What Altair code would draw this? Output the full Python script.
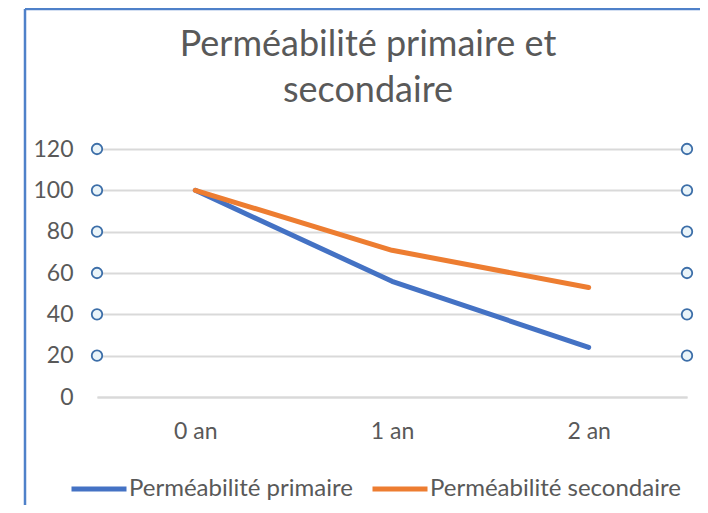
import altair as alt
import pandas as pd

# ---- data ----
categories = ["0 an", "1 an", "2 an"]
primaire = [100, 56, 24]
secondaire = [100, 71, 53]
series_names = ["Perméabilité primaire", "Perméabilité secondaire"]
series_colors = ["#4472C4", "#ED7D31"]
y_ticks = [0, 20, 40, 60, 80, 100, 120]
handle_levels = [20, 40, 60, 80, 100, 120]
title_lines = ["Perméabilité primaire et", "secondaire"]

rows = []
for name, vals in zip(series_names, [primaire, secondaire]):
    for c, v in zip(categories, vals):
        rows.append({"annee": c, "valeur": v, "serie": name})
df = pd.DataFrame(rows)
handles = pd.DataFrame({"niveau": handle_levels})

W, H = 590, 248
PAD_L, PAD_T = 89, 141
TOTAL_W, TOTAL_H = 692, 497
FONT = "Lato"
GREY = "#595959"
GRID = "#d9d9d9"
FRAME = "#4F81C9"

x_enc = alt.X(
    "annee:N",
    sort=categories,
    scale=alt.Scale(domain=categories, type="point", padding=0.5),
    axis=alt.Axis(
        title=None, labelAngle=0, ticks=False, tickSize=0, grid=False,
        domain=True, domainColor=GRID, domainWidth=2,
        labelPadding=34, labelBaseline="middle",
        labelFont=FONT, labelFontSize=23, labelColor=GREY,
    ),
)
y_enc = alt.Y(
    "valeur:Q",
    scale=alt.Scale(domain=[0, 120], nice=False),
    axis=alt.Axis(
        title=None, values=y_ticks, ticks=False, tickSize=0, domain=False,
        grid=True, gridColor=GRID, gridWidth=2,
        labelPadding=24, labelFont=FONT, labelFontSize=23, labelColor=GREY,
    ),
)

lines = alt.Chart(df).mark_line(
    strokeWidth=5, strokeCap="round", strokeJoin="round", interpolate="linear"
).encode(
    x=x_enc,
    y=y_enc,
    color=alt.Color(
        "serie:N",
        scale=alt.Scale(domain=series_names, range=series_colors),
        legend=alt.Legend(
            title=None, orient="none", legendX=-28, legendY=310,
            direction="horizontal", symbolType="stroke", symbolSize=3025,
            symbolStrokeWidth=5, labelFont=FONT, labelFontSize=24,
            labelColor=GREY, labelOffset=0, columnPadding=9, padding=0,
            labelLimit=400,
        ),
    ),
)

handle_mark = dict(shape="circle", filled=True, fill="#EAF4F9", stroke="#3C6EA8",
                   strokeWidth=1.8, size=110, opacity=1)
left_handles = alt.Chart(handles).mark_point(**handle_mark).encode(
    x=alt.value(0), y=alt.Y("niveau:Q")
)
right_handles = alt.Chart(handles).mark_point(**handle_mark).encode(
    x=alt.value(W), y=alt.Y("niveau:Q")
)

one = alt.Data(values=[{"k": 0}])
frame_left = alt.Chart(one).mark_rule(color=FRAME, strokeWidth=2.5).encode(
    x=alt.value(-PAD_L + 17), y=alt.value(-PAD_T + 1), y2=alt.value(TOTAL_H - PAD_T)
)
frame_top = alt.Chart(one).mark_rule(color=FRAME, strokeWidth=2.5).encode(
    x=alt.value(-PAD_L + 17), x2=alt.value(TOTAL_W - PAD_L), y=alt.value(-PAD_T + 1)
)

chart = alt.layer(
    lines, left_handles, right_handles, frame_left, frame_top
).properties(
    width=W, height=H,
    background="white",
    title=alt.TitleParams(
        text=title_lines, font=FONT, fontSize=36, fontWeight="normal", color=GREY,
        lineHeight=46, anchor="middle", frame="group", dx=-24, offset=-102,
    ),
    autosize=alt.AutoSizeParams(type="none"),
    padding={"left": PAD_L, "top": PAD_T, "right": TOTAL_W - PAD_L - W,
             "bottom": TOTAL_H - PAD_T - H},
).configure_view(stroke=None)

chart.save("out.html", embed_options={"renderer": "svg", "actions": False})
